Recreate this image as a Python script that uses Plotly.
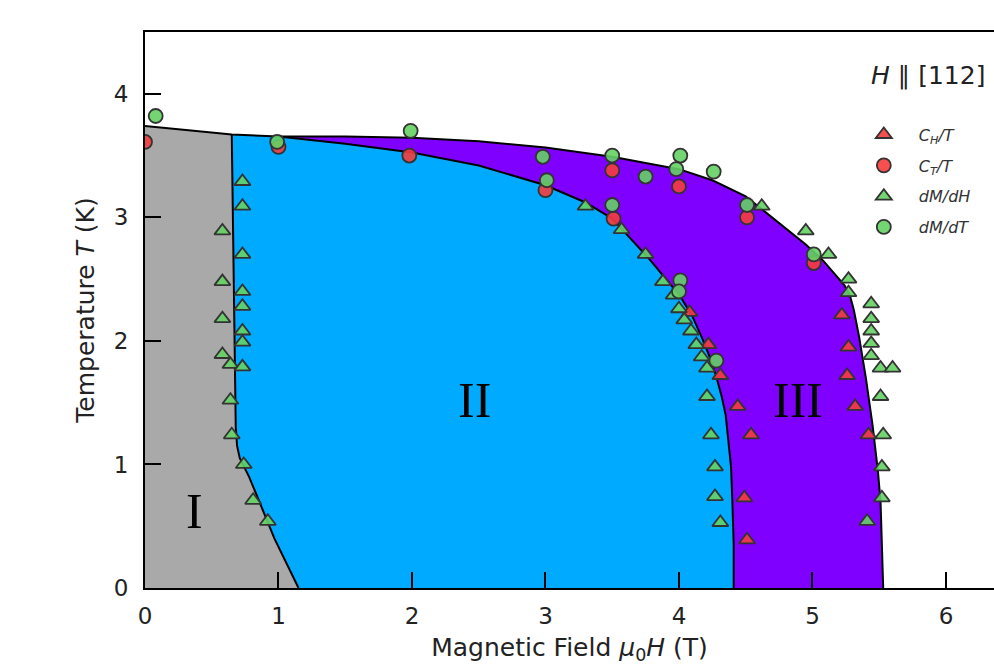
import plotly.graph_objects as go

# ---------------- phase boundaries (H in T, T in K) ----------------
outer_H = [0, 0.65, 1.0, 1.5, 2.0, 2.5, 3.0, 3.5, 4.0, 4.25, 4.5, 4.75, 4.95, 5.08, 5.18,
           5.24, 5.28, 5.31, 5.35, 5.40, 5.45, 5.49, 5.51, 5.52, 5.53]
outer_T = [3.74, 3.67, 3.655, 3.655, 3.645, 3.615, 3.565, 3.49, 3.39, 3.30, 3.17, 2.95, 2.78,
           2.65, 2.53, 2.45, 2.37, 2.25, 2.03, 1.70, 1.32, 0.95, 0.70, 0.40, 0.0]

inner_H = [1.0, 1.5, 2.0, 2.5, 3.0, 3.3, 3.5, 3.78, 4.01, 4.1, 4.17, 4.23, 4.28, 4.32,
           4.35, 4.37, 4.39, 4.40, 4.41, 4.41]
inner_T = [3.655, 3.595, 3.525, 3.42, 3.26, 3.12, 2.99, 2.66, 2.36, 2.20, 2.03, 1.87, 1.71,
           1.55, 1.40, 1.20, 0.98, 0.70, 0.35, 0.0]

low_H = [0.65, 0.655, 0.665, 0.675, 0.68, 0.69, 0.71, 0.78, 0.85, 0.97, 1.15]
low_T = [3.67, 3.2, 2.5, 1.8, 1.3, 1.15, 1.05, 0.90, 0.71, 0.40, 0.0]

# ---------------- measured points ----------------
CH_H = [4.08, 4.22, 4.31, 4.44, 4.54, 4.49, 4.51, 5.22, 5.27, 5.26, 5.32, 5.42]
CH_T = [2.23, 1.97, 1.72, 1.47, 1.24, 0.73, 0.39, 2.21, 1.95, 1.72, 1.47, 1.24]

CT_H = [0.0, 1.0, 1.98, 3.0, 3.5, 3.51, 4.0, 4.51, 5.01]
CT_T = [3.61, 3.57, 3.50, 3.22, 3.38, 2.99, 3.25, 3.00, 2.63]

dMdH_H = [0.73, 0.73, 0.58, 0.73, 0.58, 0.73, 0.73, 0.58, 0.73, 0.73, 0.58, 0.64, 0.73,
          0.64, 0.65, 0.74, 0.81, 0.92,
          3.30, 3.57, 3.75, 3.88, 3.96, 4.00, 4.04, 4.09, 4.13, 4.17, 4.21, 4.21, 4.24,
          4.27, 4.27, 4.31,
          4.62, 4.95, 5.12, 5.27, 5.27, 5.44, 5.44, 5.44, 5.44, 5.44, 5.51, 5.60, 5.51,
          5.53, 5.52, 5.52, 5.41]
dMdH_T = [3.29, 3.09, 2.89, 2.70, 2.48, 2.40, 2.28, 2.18, 2.08, 1.99, 1.89, 1.81, 1.79,
          1.52, 1.24, 1.00, 0.71, 0.54,
          3.09, 2.90, 2.70, 2.48, 2.37, 2.26, 2.17, 2.08, 1.97, 1.87, 1.78, 1.55, 1.24,
          0.98, 0.74, 0.53,
          3.09, 2.89, 2.70, 2.50, 2.39, 2.30, 2.18, 2.08, 1.98, 1.88, 1.78, 1.78, 1.55,
          1.24, 0.98, 0.73, 0.54]

dMdT_H = [0.08, 0.99, 1.99, 2.98, 3.01, 3.50, 3.50, 3.75, 4.01, 3.98, 4.26, 4.51, 5.01,
          4.01, 4.00, 4.28]
dMdT_T = [3.82, 3.61, 3.70, 3.49, 3.30, 3.50, 3.10, 3.33, 3.50, 3.39, 3.37, 3.10, 2.70,
          2.49, 2.40, 1.84]

x_ticks = [0, 1, 2, 3, 4, 5, 6]
y_ticks = [0, 1, 2, 3, 4]

FONT = "DejaVu Sans"

fig = go.Figure()

# ---------------- filled regions ----------------
k1 = outer_H.index(low_H[0])
k2 = outer_H.index(inner_H[0])

regI_x = [0] + outer_H[:k1 + 1] + low_H[1:]
regI_y = [0] + outer_T[:k1 + 1] + low_T[1:]

regII_x = low_H + inner_H[::-1]
regII_y = low_T + inner_T[::-1]

regIII_x = inner_H + outer_H[k2:][::-1]
regIII_y = inner_T + outer_T[k2:][::-1]

for xs, ys, col in [(regI_x, regI_y, "#a9a9a9"),
                    (regII_x, regII_y, "#00aaff"),
                    (regIII_x, regIII_y, "#8000ff")]:
    fig.add_trace(go.Scatter(x=xs, y=ys, mode="lines", fill="toself", fillcolor=col,
                             line=dict(width=0, color=col), hoverinfo="skip",
                             showlegend=False))

# ---------------- boundary lines ----------------
for xs, ys in [(outer_H, outer_T), (inner_H, inner_T), (low_H, low_T)]:
    fig.add_trace(go.Scatter(x=xs, y=ys, mode="lines",
                             line=dict(color="black", width=2),
                             showlegend=False, hoverinfo="skip"))

# ---------------- data markers ----------------
RED = "rgba(245,60,60,0.9)"
GREEN = "rgba(100,210,100,0.9)"
EDGE = "#333333"
series = [
    (CH_H, CH_T, "triangle-up", RED, "<i>C<sub>H</sub>/T</i>", 14),
    (CT_H, CT_T, "circle", RED, "<i>C<sub>T</sub>/T</i>", 14),
    (dMdH_H, dMdH_T, "triangle-up", GREEN, "<i>dM/dH</i>", 14),
    (dMdT_H, dMdT_T, "circle", GREEN, "<i>dM/dT</i>", 14),
]
for i, (xs, ys, sym, col, name, sz) in enumerate(series):
    fig.add_trace(go.Scatter(x=xs, y=ys, mode="markers", name=name,
                             legendgroup=f"g{i}",
                             marker=dict(symbol=sym, size=sz, color=col,
                                         line=dict(color=EDGE, width=1.8))))

# ---------------- annotations ----------------
ann = [
    dict(x=0.37, y=0.62, text="I"),
    dict(x=2.47, y=1.52, text="II"),
    dict(x=4.89, y=1.52, text="III"),
]
annotations = [dict(x=a["x"], y=a["y"], xref="x", yref="y", text=a["text"], showarrow=False,
                    font=dict(family="Liberation Serif", size=50, color="black"))
               for a in ann]
annotations.append(dict(x=6.31, y=4.15, xref="x", yref="y", xanchor="right",
                        text="<i>H</i> \u2225 [112]", showarrow=False,
                        font=dict(family=FONT, size=25, color="#222")))

fig.update_layout(
    width=994, height=665,
    margin=dict(l=145, r=0, t=32, b=77),
    plot_bgcolor="white", paper_bgcolor="white",
    font=dict(family=FONT, size=24, color="#222"),
    annotations=annotations,
    legend=dict(x=0.829, y=0.846, xanchor="left", yanchor="top",
                bgcolor="rgba(0,0,0,0)", itemwidth=60, tracegroupgap=7,
                traceorder="grouped",
                font=dict(family=FONT, size=16, color="#333")),
    xaxis=dict(range=[0, 6.36], tickvals=x_ticks, ticks="inside", ticklen=16, tickwidth=1.5,
               tickcolor="black", showline=True, linecolor="black", linewidth=2, mirror=True,
               showgrid=False, zeroline=False, ticklabelstandoff=6,
               tickfont=dict(size=23),
               title=dict(text="Magnetic Field <i>\u03bc</i><sub>0</sub><i>H</i> (T)",
                          standoff=12, font=dict(size=25))),
    yaxis=dict(range=[0, 4.5], tickvals=y_ticks, ticks="inside", ticklen=16, tickwidth=1.5,
               tickcolor="black", showline=True, linecolor="black", linewidth=2, mirror=False,
               showgrid=False, zeroline=False, ticklabelstandoff=10,
               tickfont=dict(size=23),
               title=dict(text="Temperature <i>T</i> (K)", standoff=12, font=dict(size=25))),
)

fig.write_html("out.html")
